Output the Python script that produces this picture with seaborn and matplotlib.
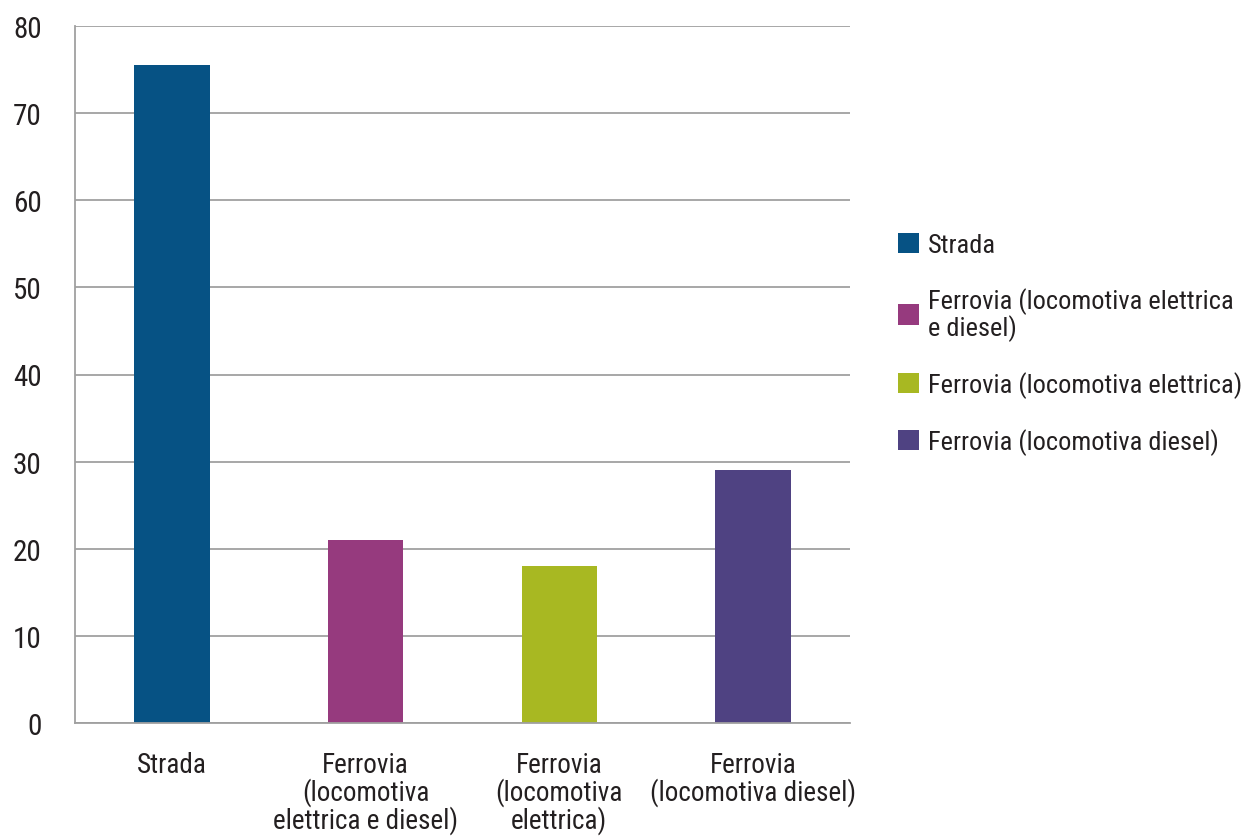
import matplotlib
matplotlib.use("Agg")
import matplotlib.pyplot as plt
import seaborn as sns
import pandas as pd
import numpy as np
from matplotlib.patches import Patch
from matplotlib import font_manager

categories = ["Strada", "Ferrovia (locomotiva elettrica e diesel)",
              "Ferrovia (locomotiva elettrica)", "Ferrovia (locomotiva diesel)"]
values = [75.5, 21.0, 18.0, 29.0]
tick_labels = ["Strada", "Ferrovia\n(locomotiva\nelettrica e diesel)",
               "Ferrovia\n(locomotiva\nelettrica)", "Ferrovia\n(locomotiva diesel)"]
legend_labels = ["Strada", "Ferrovia (locomotiva elettrica\ne diesel)",
                 "Ferrovia (locomotiva elettrica)", "Ferrovia (locomotiva diesel)"]
colors = ["#065284", "#963A7E", "#A8B822", "#4F4282"]

df = pd.DataFrame({"cat": categories, "val": values})

sns.set_style("white")
names = {f.name for f in font_manager.fontManager.ttflist}
narrow = [n for n in ["Roboto Condensed", "Liberation Sans Narrow", "Open Sans Condensed"] if n in names]
plt.rcParams["font.family"] = narrow + ["DejaVu Sans"]
plt.rcParams["font.stretch"] = "condensed"

fig = plt.figure(figsize=(12.5, 8.37), dpi=100)
ax = fig.add_axes([75 / 1250, 1 - 724 / 837, 775 / 1250, 697 / 837])

sns.barplot(data=df, x="cat", y="val", hue="cat", palette=colors,
            width=0.39, legend=False, ax=ax, saturation=1, linewidth=0)

ax.set_ylim(0, 80)
ax.set_xlim(-0.5, 3.5)
ax.set_yticks(np.arange(0, 81, 10))
ax.yaxis.grid(True, color="#a0a0a0", linewidth=1.3)
ax.set_axisbelow(True)
ax.set_xlabel("")
ax.set_ylabel("")

for s in ["top", "right"]:
    ax.spines[s].set_visible(False)
for s in ["left", "bottom"]:
    ax.spines[s].set_color("#a0a0a0")
    ax.spines[s].set_linewidth(1.3)

ax.set_xticks(range(4))
ax.set_xticklabels(tick_labels, fontsize=19.5, linespacing=0.97)
ax.set_xticks(np.arange(-0.5, 4, 1), minor=True)
ax.tick_params(axis="x", which="major", length=0, pad=20)
ax.tick_params(axis="x", which="minor", length=8, color="#a0a0a0", width=1.3)
ax.tick_params(axis="y", length=7, color="#a0a0a0", width=1.3, labelsize=21, pad=17)
for lbl in ax.get_yticklabels() + ax.get_xticklabels():
    lbl.set_color("#231f20")

handles = [Patch(facecolor=c, edgecolor="none") for c in colors]
leg = fig.legend(handles, legend_labels, loc="upper left", bbox_to_anchor=(874 / 1250, 1 - 210 / 837),
                 frameon=False, fontsize=19, handlelength=0.8, handleheight=0.8,
                 handletextpad=0.35, labelspacing=1.15, labelcolor="#231f20")
for t in leg.get_texts():
    t.set_linespacing(1.0)

fig.savefig("out.png", dpi=100)
